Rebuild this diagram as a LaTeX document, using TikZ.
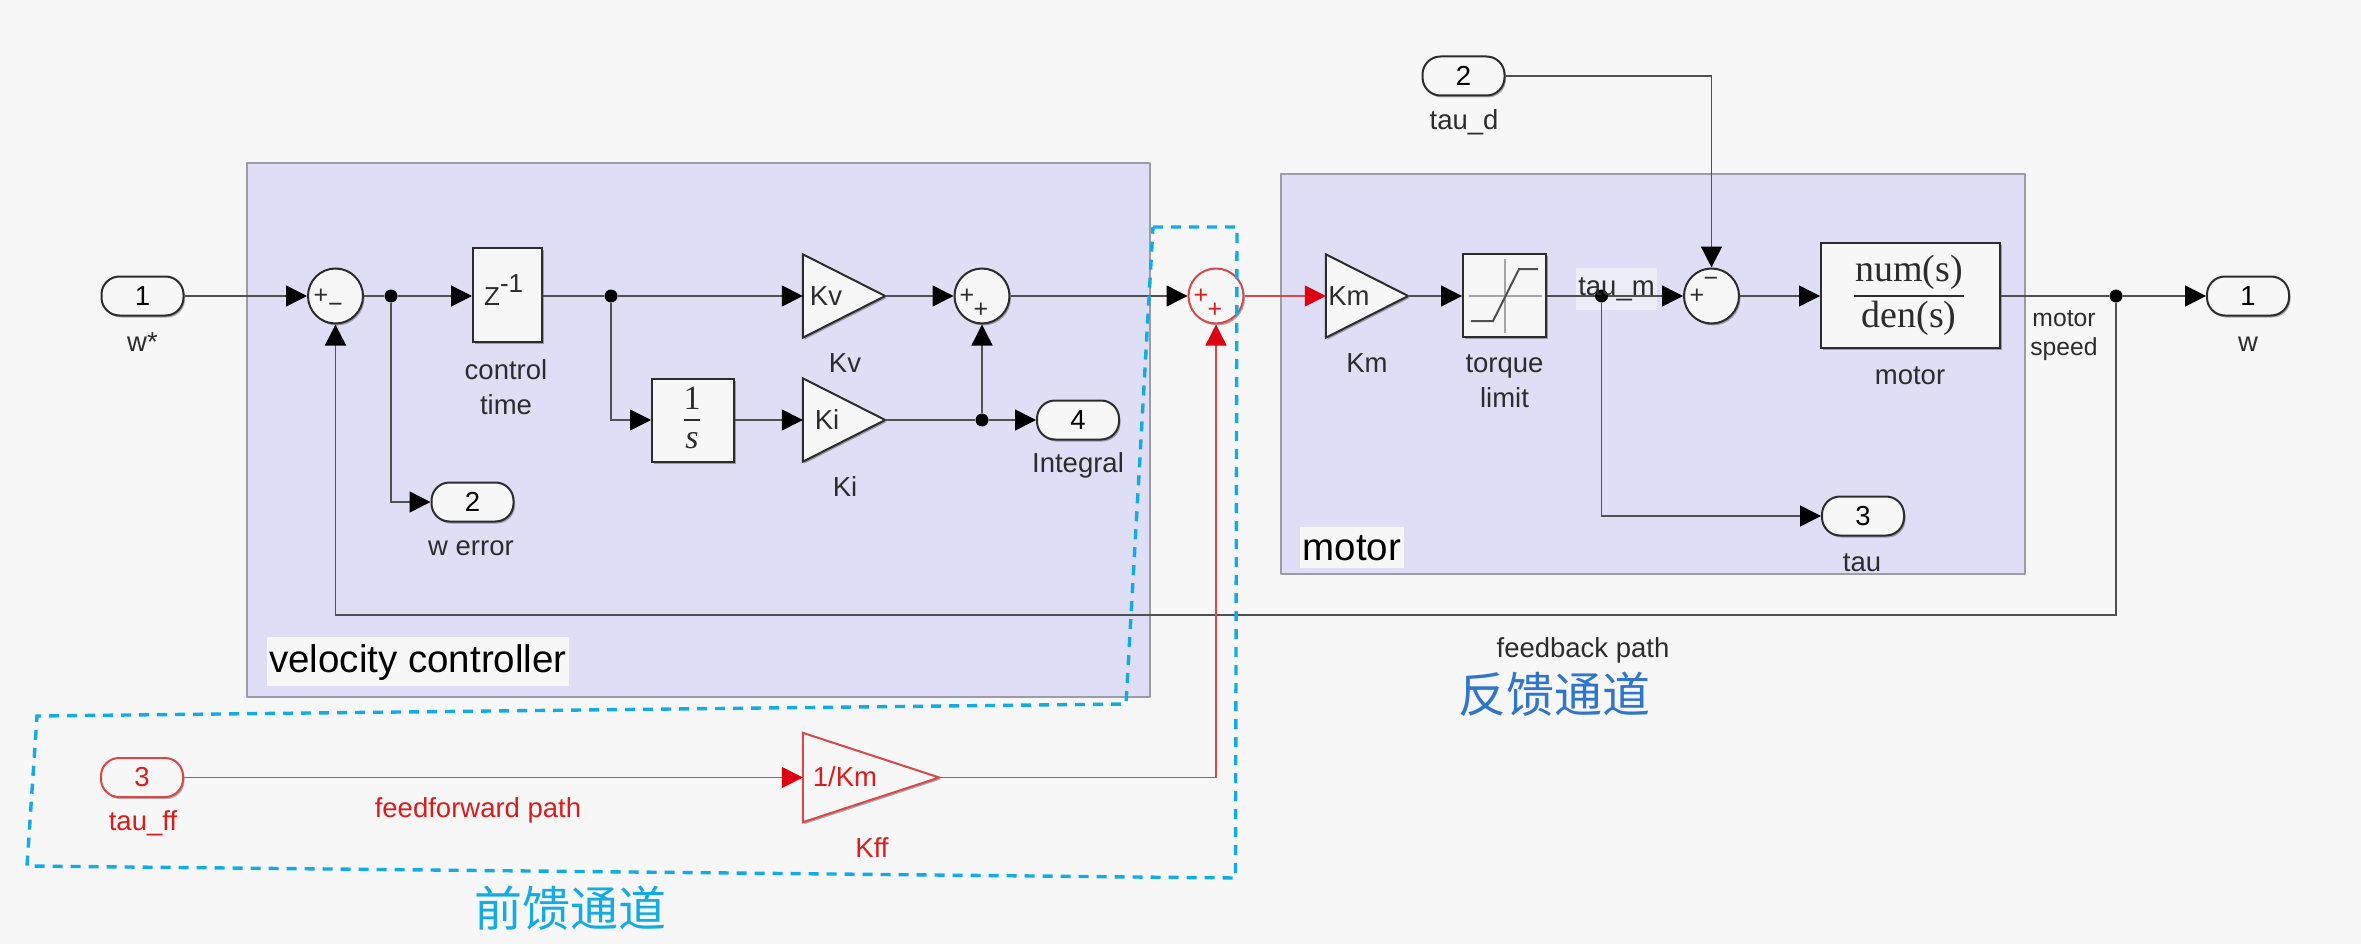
\documentclass[tikz,border=0pt]{standalone}
\usepackage{fontspec}
\setmainfont{Liberation Sans}
\newfontfamily\serifnum{Liberation Serif}
\newfontfamily\cjkfont{Noto Sans CJK SC}
\usetikzlibrary{arrows.meta,shadows,calc}
\definecolor{bgc}{HTML}{F7F7F7}
\definecolor{areac}{HTML}{DEDEF6}
\definecolor{areaedge}{HTML}{9C9CA6}
\definecolor{ink}{HTML}{2C2C2C}
\definecolor{wirec}{HTML}{505050}
\definecolor{redline}{HTML}{D84848}
\definecolor{redtip}{HTML}{DD0010}
\definecolor{redtext}{HTML}{DC1C1C}
\definecolor{cyanc}{HTML}{12ABE4}
\definecolor{bluec}{HTML}{2F75C9}
\tikzset{
  softshadow/.style={drop shadow={shadow xshift=1.5pt,shadow yshift=-2pt,opacity=.3,fill=black}},
  area/.style={draw=areaedge,fill=areac,line width=2pt,line join=round},
  lbl/.style={font=\fontsize{27.5}{35}\selectfont,inner sep=0pt,text=ink,align=center},
  redlbl/.style={lbl,text=redtext},
  areatitle/.style={font=\fontsize{38.5}{44}\selectfont,inner sep=0pt,text=black},
  port/.style={draw=ink,fill=bgc,line width=2pt,rounded corners=18pt,minimum width=82pt,minimum height=39pt,inner sep=0pt,font=\fontsize{27.5}{33}\selectfont,softshadow},
  redport/.style={port,draw=redline,text=redtext},
  block/.style={draw=ink,fill=bgc,line width=2pt,inner sep=0pt,softshadow},
  sumc/.style={circle,draw=ink,fill=bgc,line width=2pt,minimum size=55pt,inner sep=0pt,softshadow},
  redsum/.style={sumc,draw=redline},
  gainbox/.style={inner sep=0pt},
  gainshape/.style={draw=ink,fill=bgc,line width=2pt,line join=miter,softshadow},
  redgainshape/.style={gainshape,draw=redline},
  sign/.style={font=\fontsize{25}{25}\selectfont,inner sep=0pt,text=ink},
  redsign/.style={sign,text=redtext},
  junct/.style={circle,fill=black,minimum size=13pt,inner sep=0pt},
  wire/.style={draw=wirec,line width=1.4pt,-{Triangle[length=21pt,width=21pt,color=black]}},
  plainwire/.style={draw=wirec,line width=1.4pt},
  redwire/.style={draw=redline,line width=1.4pt,-{Triangle[length=21pt,width=21pt,color=redtip]}},
  pathmark/.style={draw=cyanc,line width=3.4pt,dash pattern=on 10pt off 8pt,line join=miter},
}
\begin{document}
\begin{tikzpicture}[x=1pt,y=-1pt]
\useasboundingbox (0,0) rectangle (2361,944);
\fill[bgc] (0,0) rectangle (2361,944);
% subsystem areas
\node[area,minimum width=903pt,minimum height=534pt,inner sep=0pt] (vcarea) at (698.5,430) {};
\node[area,minimum width=744pt,minimum height=400pt,inner sep=0pt] (marea) at (1653,374) {};
\node[fill=bgc,minimum width=302pt,minimum height=49pt,inner sep=0pt] (vctitlebg) at (418,661.5) {};
\node[areatitle,anchor=center] (vctitle) at (418,663) {velocity controller};
\node[fill=bgc,minimum width=104pt,minimum height=41pt,inner sep=0pt] (mtitlebg) at (1352,547.5) {};
\node[areatitle,anchor=center] (mtitle) at (1352,548) {motor};
\node[fill=bgc!60!areac,minimum width=81pt,minimum height=42pt,inner sep=0pt] (taumbg) at (1616.5,289) {};
% velocity controller blocks
\node[port] (in1) at (142.5,296) {1};
\node[sumc] (s1) at (335.5,296) {};
\node[sign] (s1p) at (321,296) {+};
\node[sign] (s1m) at (335.5,308) {−};
\node[junct] (j1) at (391,296) {};
\node[block,minimum width=69pt,minimum height=94pt] (zb) at (507.5,295) {};
\node[anchor=base west,inner sep=0pt,font=\fontsize{26}{30}\selectfont,text=ink] (zt) at (484,305) {Z\raisebox{13pt}{-1}};
\node[junct] (j2) at (611,296) {};
\node[block,minimum width=82pt,minimum height=83pt] (ib) at (693,420) {};
\node[font=\serifnum\fontsize{34}{34}\selectfont,inner sep=0pt,text=ink] (ione) at (692,398) {1};
\node[font=\serifnum\itshape\fontsize{34}{34}\selectfont,inner sep=0pt,text=ink] (is) at (692,441) {s};
\draw[draw=ink,line width=2pt] (684,420) -- (700,420);
\node[port] (o2) at (472.5,502) {2};
\node[gainbox,minimum width=82pt,minimum height=83pt] (kv) at (844,296) {};
\path[gainshape] (kv.north west) -- (kv.east) -- (kv.south west) -- cycle;
\node[lbl] (kvt) at (826,296) {Kv};
\node[gainbox,minimum width=82pt,minimum height=83pt] (ki) at (844,420) {};
\path[gainshape] (ki.north west) -- (ki.east) -- (ki.south west) -- cycle;
\node[lbl] (kit) at (827,420) {Ki};
\node[sumc] (s2) at (982,296) {};
\node[sign] (s2p) at (967,296) {+};
\node[sign] (s2q) at (981,310) {+};
\node[junct] (j3) at (982,420) {};
\node[port] (o4) at (1078,420) {4};
% red summing point and feedforward
\node[redsum] (sr) at (1216,296) {};
\node[redsign] (srp) at (1201,296) {+};
\node[redsign] (srq) at (1215,310) {+};
\node[redport] (in3) at (142,777.5) {3};
\node[gainbox,minimum width=136pt,minimum height=89pt] (kff) at (871,777.5) {};
\path[redgainshape] (kff.north west) -- (kff.east) -- (kff.south west) -- cycle;
\node[redlbl] (kfft) at (845,777) {1/Km};
% motor blocks
\node[gainbox,minimum width=82pt,minimum height=83pt] (km) at (1367,296) {};
\path[gainshape] (km.north west) -- (km.east) -- (km.south west) -- cycle;
\node[lbl] (kmt) at (1349,296) {Km};
\node[block,minimum width=83pt,minimum height=83pt] (sat) at (1504.5,295.5) {};
\draw[draw=black!35,line width=1.4pt] (1469,296) -- (1542,296) (1505,259) -- (1505,333);
\draw[draw=wirec,line width=2pt] (1471,321) -- (1493,321) -- (1519,269) -- (1538,269);
\node[junct] (j5) at (1601.5,296) {};
\node[sumc] (s3) at (1711.5,296) {};
\node[sign] (s3m) at (1711,282) {−};
\node[sign] (s3p) at (1697,296) {+};
\node[block,minimum width=179pt,minimum height=105pt] (tf) at (1910.5,295.5) {};
\node[font=\serifnum\fontsize{38}{38}\selectfont,inner sep=0pt,text=ink] (tfn) at (1909,272) {num(s)};
\node[font=\serifnum\fontsize{38}{38}\selectfont,inner sep=0pt,text=ink] (tfd) at (1909,318) {den(s)};
\draw[draw=ink,line width=2.6pt] (1854,296) -- (1964,296);
\node[port,minimum width=82pt] (o3) at (1863,516) {3};
\node[port] (ind) at (1463.5,76) {2};
\node[junct] (j4) at (2116,296) {};
\node[port] (o1) at (2248,296) {1};
% labels
\node[lbl] (lw) at (142.5,342) {w*};
\node[lbl] (lct) at (506,387) {control\\time};
\node[lbl] (lwe) at (471,548) {w error};
\node[lbl] (lkv) at (845,363) {Kv};
\node[lbl] (lki) at (845,487) {Ki};
\node[lbl] (lint) at (1078,465) {Integral};
\node[lbl] (lkm) at (1367,363) {Km};
\node[lbl] (ltl) at (1504.5,381.5) {torque\\limit};
\node[lbl] (ltm) at (1616.5,289) {tau\_m};
\node[lbl] (lmot) at (1910,376) {motor};
\node[lbl] (ltau) at (1862,563) {tau};
\node[lbl] (ltd) at (1464,122) {tau\_d};
\node[lbl] (lo1) at (2248,344) {w};
\node[lbl,font=\fontsize{24.7}{29}\selectfont] (lms) at (2064,335.5) {motor\\speed};
\node[lbl] (lfb) at (1583,650) {feedback path};
\node[redlbl] (lff) at (478,810) {feedforward path};
\node[redlbl] (ltf) at (143,823) {tau\_ff};
\node[redlbl] (lkff) at (872,848) {Kff};
\node[font=\cjkfont\fontsize{48}{48}\selectfont,inner sep=0pt,text=bluec] (cfb) at (1554,694) {反馈通道};
\node[font=\cjkfont\fontsize{48}{48}\selectfont,inner sep=0pt,text=cyanc] (cff) at (570,908) {前馈通道};
% connectors
\draw[wire] (in1.east) -- (s1.west);
\draw[plainwire] (s1.east) -- (j1);
\draw[wire] (j1) -- (zb.west |- j1);
\draw[wire] (j1) |- (o2.west);
\draw[plainwire] (zb.east |- j2) -- (j2);
\draw[wire] (j2) -- (kv.west);
\draw[wire] (j2) |- (ib.west);
\draw[wire] (ib.east) -- (ki.west);
\draw[wire] (kv.east) -- (s2.west);
\draw[plainwire] (ki.east) -- (j3);
\draw[wire] (j3) -- (s2.south);
\draw[wire] (j3) -- (o4.west);
\draw[wire] (s2.east) -- (sr.west);
\draw[redwire] (sr.east) -- (km.west);
\draw[wire] (km.east) -- (sat.west |- km.east);
\draw[plainwire] (sat.east |- j5) -- (j5);
\draw[wire] (j5) -- (s3.west);
\draw[wire] (j5) |- (o3.west);
\draw[wire] (ind.east) -| (s3.north);
\draw[wire] (s3.east) -- (tf.west |- s3.east);
\draw[plainwire] (tf.east |- j4) -- (j4);
\draw[wire] (j4) -- (o1.west);
\coordinate (fbcorner) at (2116,615);
\draw[wire] (j4) -- (fbcorner) -| (s1.south);
\draw[redwire] (in3.east) -- (kff.west);
\draw[redwire] (kff.east) -| (sr.south);
% dashed outline of the feedforward path
\coordinate (d1) at (1153,227);
\coordinate (d2) at (1237,227);
\coordinate (d3) at (1235.5,878);
\coordinate (d4) at (27,866);
\coordinate (d5) at (37,716);
\coordinate (d6) at (1126,704);
\draw[pathmark] (d1) -- (d2) -- (d3) -- (d4) -- (d5) -- (d6) -- cycle;
\end{tikzpicture}
\end{document}
